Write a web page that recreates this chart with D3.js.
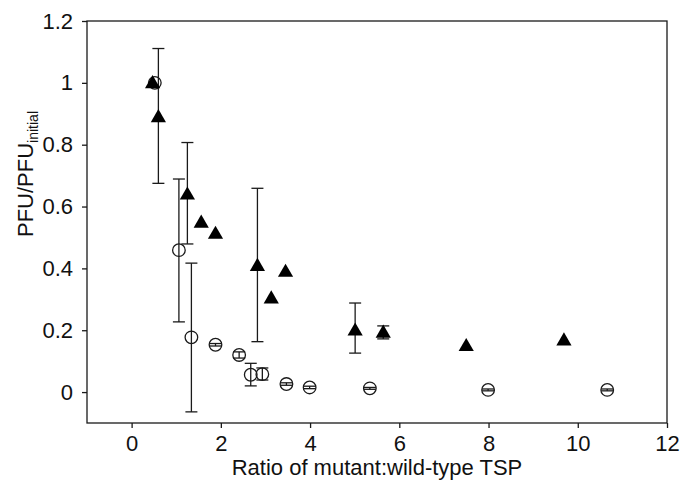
<!DOCTYPE html>
<html>
<head>
<meta charset="utf-8">
<script src="https://cdn.jsdelivr.net/npm/d3@7/dist/d3.min.js"></script>
<style>
  html, body { margin: 0; padding: 0; background: #fff; }
  svg { display: block; }
  text { font-family: "Liberation Sans", Arial, sans-serif; fill: #111; }
</style>
</head>
<body>
<svg id="chart" width="682" height="484"></svg>
<script>
// ---- data ----
const xTicks = [0, 2, 4, 6, 8, 10, 12];
const yTicks = [0, 0.2, 0.4, 0.6, 0.8, 1, 1.2];

// filled triangles
const triX = [0.47, 0.60, 1.25, 1.56, 1.88, 2.82, 3.13, 3.45, 5.01, 5.64, 7.50, 9.69];
const triY = [1.00, 0.89, 0.64, 0.549, 0.513, 0.409, 0.304, 0.39, 0.20, 0.193, 0.15, 0.168];
const triLo = [null, 0.675, 0.479, null, null, 0.163, null, null, 0.126, 0.172, null, null];
const triHi = [null, 1.111, 0.807, null, null, 0.659, null, null, 0.288, 0.214, null, null];

// open circles
const circX = [0.52, 1.06, 1.34, 1.88, 2.41, 2.67, 2.93, 3.47, 3.99, 5.34, 7.99, 10.66];
const circY = [1.00, 0.459, 0.177, 0.153, 0.12, 0.056, 0.058, 0.026, 0.015, 0.012, 0.007, 0.007];
const circLo = [null, 0.227, -0.064, 0.149, 0.110, 0.020, 0.039, 0.022, 0.011, 0.009, 0.004, 0.004];
const circHi = [null, 0.689, 0.417, 0.157, 0.130, 0.093, 0.078, 0.030, 0.019, 0.015, 0.010, 0.010];

// ---- layout ----
const svg = d3.select("#chart");
const L = 87, R = 667, T = 21, B = 423;
const x = d3.scaleLinear().domain([-1, 12]).range([L, R]);
const y = d3.scaleLinear().domain([-0.1, 1.2]).range([B, T]);
const ink = "#1a1a1a";

// frame
svg.append("rect").attr("x", L).attr("y", T).attr("width", R - L).attr("height", B - T)
  .attr("fill", "none").attr("stroke", ink).attr("stroke-width", 1.3);

const fmt = d => d3.format("~g")(d);
const xAxis = svg.append("g").attr("transform", `translate(0,${B})`)
  .call(d3.axisBottom(x).tickValues(xTicks).tickFormat(fmt).tickSize(5).tickSizeOuter(0).tickPadding(7));
const yAxis = svg.append("g").attr("transform", `translate(${L},0)`)
  .call(d3.axisLeft(y).tickValues(yTicks).tickFormat(fmt).tickSize(5).tickSizeOuter(0).tickPadding(9));
[xAxis, yAxis].forEach(a => {
  a.select(".domain").remove();
  a.selectAll(".tick line").attr("stroke", ink).attr("stroke-width", 1.3);
  a.selectAll(".tick text").attr("font-size", 22).attr("fill", "#111")
    .style("font-family", "'Liberation Sans', Arial, sans-serif");
});

// axis titles
svg.append("text").attr("x", (L + R) / 2).attr("y", 475).attr("text-anchor", "middle")
  .attr("font-size", 22).text("Ratio of mutant:wild-type TSP");
const yl = svg.append("text").attr("transform", "translate(33,174) rotate(-90)")
  .attr("text-anchor", "middle").attr("font-size", 22);
yl.append("tspan").text("PFU/PFU");
yl.append("tspan").attr("font-size", 14).attr("dy", 5).text("initial");

// error bars
const cap = 6;
function errBars(xs, lo, hi, cls) {
  const data = xs.map((v, i) => ({ x: v, lo: lo[i], hi: hi[i] })).filter(d => d.lo !== null);
  const g = svg.append("g").attr("class", cls).attr("stroke", ink).attr("stroke-width", 1.3).attr("fill", "none");
  g.selectAll("line.v").data(data).join("line").attr("class", "v")
    .attr("x1", d => x(d.x)).attr("x2", d => x(d.x)).attr("y1", d => y(d.lo)).attr("y2", d => y(d.hi));
  g.selectAll("line.t").data(data).join("line").attr("class", "t")
    .attr("x1", d => x(d.x) - cap).attr("x2", d => x(d.x) + cap).attr("y1", d => y(d.hi)).attr("y2", d => y(d.hi));
  g.selectAll("line.b").data(data).join("line").attr("class", "b")
    .attr("x1", d => x(d.x) - cap).attr("x2", d => x(d.x) + cap).attr("y1", d => y(d.lo)).attr("y2", d => y(d.lo));
}
errBars(circX, circLo, circHi, "err-circ");
errBars(triX, triLo, triHi, "err-tri");

// circles
svg.append("g").selectAll("circle").data(circX.map((v, i) => ({ x: v, y: circY[i] }))).join("circle")
  .attr("cx", d => x(d.x)).attr("cy", d => y(d.y)).attr("r", 6.3)
  .attr("fill", "none").attr("stroke", ink).attr("stroke-width", 1.3);

// triangles
const tri = d3.symbol().type(d3.symbolTriangle).size(100);
svg.append("g").selectAll("path").data(triX.map((v, i) => ({ x: v, y: triY[i] }))).join("path")
  .attr("d", tri).attr("transform", d => `translate(${x(d.x)},${y(d.y) + 1})`)
  .attr("fill", "#000");
</script>
</body>
</html>
